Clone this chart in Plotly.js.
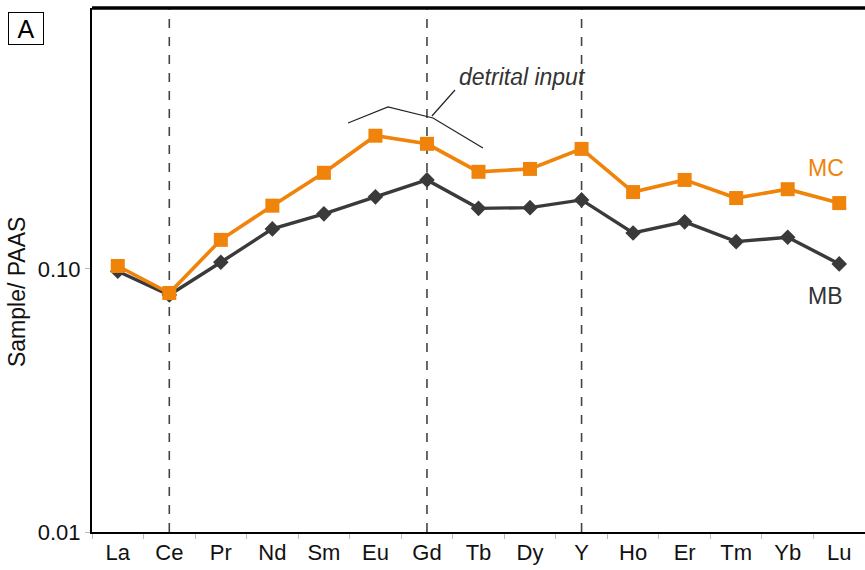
<!DOCTYPE html>
<html>
<head>
<meta charset="utf-8">
<script src="https://cdn.plot.ly/plotly-3.0.1.min.js"></script>
<style>html,body{margin:0;padding:0;background:#fff;}#chart{width:865px;height:570px;}</style>
</head>
<body>
<div id="chart"></div>
<script>
const elements = ['La','Ce','Pr','Nd','Sm','Eu','Gd','Tb','Dy','Y','Ho','Er','Tm','Yb','Lu'];
const mcValues = [0.1026,0.081,0.129,0.174,0.232,0.321,0.299,0.234,0.240,0.286,0.196,0.218,0.186,0.201,0.178];
const mbValues = [0.098,0.0796,0.106,0.142,0.162,0.188,0.218,0.170,0.171,0.183,0.137,0.151,0.127,0.132,0.1045];
const yTickVals = [0.01, 0.1];
const yTickText = ['0.01', '0.10'];
const dashedAt = ['Ce', 'Gd', 'Y'];

const font = 'Liberation Sans, Arial, sans-serif';
const orange = '#F0830A';
const dark = '#3a3a3a';

const traces = [
  {x: elements, y: mbValues, type: 'scatter', mode: 'lines+markers', name: 'MB',
   line: {color: dark, width: 3.4}, marker: {symbol: 'diamond', size: 12, color: dark}},
  {x: elements, y: mcValues, type: 'scatter', mode: 'lines+markers', name: 'MC',
   line: {color: orange, width: 3.6}, marker: {symbol: 'square', size: 14, color: orange}}
];

const shapes = dashedAt.map(e => ({
  type: 'line', xref: 'x', yref: 'paper', x0: e, x1: e, y0: 0, y1: 1,
  line: {color: '#444', width: 1.6, dash: 'dash'}, layer: 'below'
}));
shapes.push({type: 'line', xref: 'paper', yref: 'paper', x0: 0, x1: 1, y0: 1, y1: 1,
  line: {color: '#000', width: 3.5}});
shapes.push({type: 'path', xref: 'paper', yref: 'paper',
  path: 'M 0.3312 0.7805 L 0.3829 0.8111 L 0.4411 0.7901 L 0.5058 0.7328',
  line: {color: '#222', width: 1.2}});
shapes.push({type: 'line', xref: 'paper', yref: 'paper', x0: 0.4398, y0: 0.7939, x1: 0.4696, y1: 0.8435,
  line: {color: '#222', width: 1.2}});

const c = {xanchor: 'center', yanchor: 'middle', showarrow: false, xref: 'paper', yref: 'paper'};
const annotations = [
  Object.assign({text: '<i>detrital input</i>', x: 0.5563, y: 0.8683,
   font: {family: font, size: 23, color: '#333'}}, c),
  Object.assign({text: 'MC', x: 0.9495, y: 0.6947,
   font: {family: font, size: 23, color: orange}}, c),
  Object.assign({text: 'MB', x: 0.9483, y: 0.4504,
   font: {family: font, size: 23, color: '#333'}}, c),
  Object.assign({text: 'A', x: -0.0854, y: 0.9618,
   font: {family: font, size: 25, color: '#000'},
   bordercolor: '#000', borderwidth: 1, borderpad: 2, bgcolor: '#fff', width: 30, height: 27}, c),
  Object.assign({text: 'Sample/ PAAS', x: -0.097, y: 0.458, textangle: -90,
   font: {family: font, size: 23, color: '#111'}}, c)
];

const layout = {
  width: 865, height: 570,
  margin: {l: 92, r: 0, t: 8, b: 38},
  paper_bgcolor: '#fff', plot_bgcolor: '#fff',
  showlegend: false,
  font: {family: font, size: 22, color: '#111'},
  xaxis: {
    type: 'category', range: [-0.5, 14.5],
    showgrid: false, zeroline: false,
    showline: true, linecolor: '#000', linewidth: 2,
    ticks: 'outside', tickson: 'boundaries', ticklen: 5, tickcolor: '#bbb', tickwidth: 1,
    tickfont: {family: font, size: 22, color: '#111'}
  },
  yaxis: {
    type: 'log', range: [-2, -0.008],
    showgrid: false, zeroline: false,
    showline: true, linecolor: '#000', linewidth: 2,
    tickvals: yTickVals, ticktext: yTickText,
    ticks: 'outside', ticklen: 5, tickcolor: '#bbb', tickwidth: 1,
    tickfont: {family: font, size: 22, color: '#111'}
  },
  shapes: shapes,
  annotations: annotations
};

Plotly.newPlot('chart', traces, layout, {displayModeBar: false, staticPlot: true});
</script>
</body>
</html>
